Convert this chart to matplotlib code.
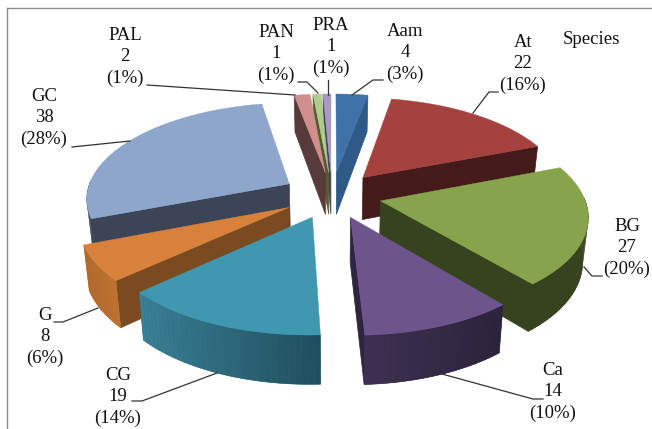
import numpy as np
import matplotlib
matplotlib.use('Agg')
import matplotlib.pyplot as plt
from matplotlib.colors import to_rgb
from matplotlib.patches import Polygon

species = ['Aam', 'At', 'BG', 'Ca', 'CG', 'G', 'GC', 'PAL', 'PAN', 'PRA']
counts = [4, 22, 27, 14, 19, 8, 38, 2, 1, 1]
percents = [3, 16, 20, 10, 14, 6, 28, 1, 1, 1]

top_colors = ['#3f72a8', '#a5423f', '#87a34c', '#6e548d', '#3f97b0',
              '#d8813a', '#8fa6cc', '#d08f8d', '#b0cb8a', '#a89ac5']
edge_colors = ['#2f5a88', '#451a1a', '#37421f', '#2f2540', '#1f4f5e',
               '#7a4a20', '#3b4557', '#573b3b', '#4f5f30', '#4a4060']
# outer rim colours, left and right end of the arc
rim_colors = {'Aam': ('#2f5a88', '#2f5a88'), 'At': ('#451a1a', '#451a1a'),
              'BG': ('#37421f', '#37421f'), 'Ca': ('#3e3054', '#2c233c'),
              'CG': ('#3a8096', '#1f4f5e'), 'G': ('#b0692e', '#bd7232'),
              'GC': ('#3b4557', '#3b4557'), 'PAL': ('#573b3b', '#573b3b'),
              'PAN': ('#4f5f30', '#4f5f30'), 'PRA': ('#4a4060', '#4a4060')}

# label centre (x, y of the middle line) and leader line for each species
label_pos = {'Aam': (405, 53), 'At': (523, 64), 'BG': (627, 248), 'Ca': (553, 392),
             'CG': (118, 397), 'G': (45, 337), 'GC': (44, 118), 'PAL': (125, 57),
             'PAN': (276, 54), 'PRA': (331, 47)}
leaders = {'Aam': [(383, 80), (373, 80), (352, 95)],
           'At': [(498, 92), (489, 92), (473, 113)],
           'BG': [(602, 276), (592, 276), (584, 267)],
           'Ca': [(543, 399), (533, 399), (442, 374)],
           'CG': [(132, 401), (142, 401), (217, 373)],
           'G': [(54, 322), (63, 322), (98, 308)],
           'GC': [(72, 147), (130, 141)],
           'PAL': [(147, 85), (295, 95)],
           'PAN': [(298, 82), (307, 82), (318, 93)],
           'PRA': [(328, 80), (328, 95)]}

# pie projection parameters
cx, cy = 332, 195
rx, ry = 203, 95
persp = 0.137
explode = 0.245
depth = 43
taper = 0.022


def project(u, v, drop=0.0):
    s = 1 / (1 + persp * v)
    x = cx + rx * u * s * (1 - taper * drop)
    return x, cy - ry * v * s + drop * depth * (1 - 0.12 * v)


def mix(c1, c2, t):
    a, b = np.array(to_rgb(c1)), np.array(to_rgb(c2))
    return tuple(a + (b - a) * t)


fig = plt.figure(figsize=(6.52, 4.29), dpi=100)
ax = fig.add_axes([0, 0, 1, 1])
ax.set_xlim(0, 652)
ax.set_ylim(429, 0)
ax.axis('off')

total = sum(counts)
edges = np.cumsum([0] + counts) / total * 2 * np.pi

wedges = []
for i, name in enumerate(species):
    t1, t2 = edges[i], edges[i + 1]
    mid = (t1 + t2) / 2
    ou, ov = explode * np.sin(mid), explode * np.cos(mid)
    wedges.append((ov, i, t1, t2, ou, ov))

# back wedges first so that the front ones cover them
for _, i, t1, t2, ou, ov in sorted(wedges, key=lambda w: -w[0]):
    name = species[i]
    arc = np.linspace(t1, t2, max(int((t2 - t1) * 40), 4))
    us = ou + np.sin(arc)
    vs = ov + np.cos(arc)

    if np.sin(t1) < 0:
        p = [project(ou, ov), project(us[0], vs[0]),
             project(us[0], vs[0], 1), project(ou, ov, 1)]
        ax.add_patch(Polygon(p, fc=edge_colors[i], ec=edge_colors[i], lw=0.5))
    if np.sin(t2) > 1e-6:
        p = [project(ou, ov), project(us[-1], vs[-1]),
             project(us[-1], vs[-1], 1), project(ou, ov, 1)]
        ax.add_patch(Polygon(p, fc=edge_colors[i], ec=edge_colors[i], lw=0.5))

    # outer rim, only the part facing the viewer: a flat base, then shaded strips
    left, right = rim_colors[name]
    front = [k for k in range(len(arc)) if np.cos(arc[k]) < 0.05]
    if front:
        upper = [project(us[k], vs[k]) for k in front]
        lower = [project(us[k], vs[k], 1) for k in front]
        base = mix(left, right, 0.5)
        ax.add_patch(Polygon(upper + lower[::-1], fc=base, ec=base, lw=0.4))
        xs = [q[0] for q in upper]
        for a, b in zip(front[:-1], front[1:]):
            p = [project(us[a], vs[a]), project(us[b], vs[b]),
                 project(us[b], vs[b], 1), project(us[a], vs[a], 1)]
            col = mix(left, right, (p[0][0] - min(xs)) / (max(xs) - min(xs)))
            ax.add_patch(Polygon(p, fc=col, ec='none', lw=0))

    top = [project(ou, ov)] + [project(u, v) for u, v in zip(us, vs)]
    ax.add_patch(Polygon(top, fc=top_colors[i], ec=top_colors[i], lw=0.3))

# thin frame along the top and left
ax.plot([7, 652], [8, 8], color='#8c8c8c', lw=1.0)
ax.plot([7, 7], [8, 429], color='#8c8c8c', lw=1.0)

serif = 'Liberation Serif'
for i, name in enumerate(species):
    x, y = label_pos[name]
    ax.text(x, y, f'{name}\n{counts[i]}\n({percents[i]}%)', family=serif, fontsize=13.5,
            ha='center', va='center', linespacing=1.33, color='#111111')
    pts = np.array(leaders[name])
    ax.plot(pts[:, 0], pts[:, 1], color='#333333', lw=0.9)

ax.text(591, 40, 'Species', family=serif, fontsize=13.5, ha='center', va='center', color='#111111')

plt.savefig('out.png', dpi=100)
